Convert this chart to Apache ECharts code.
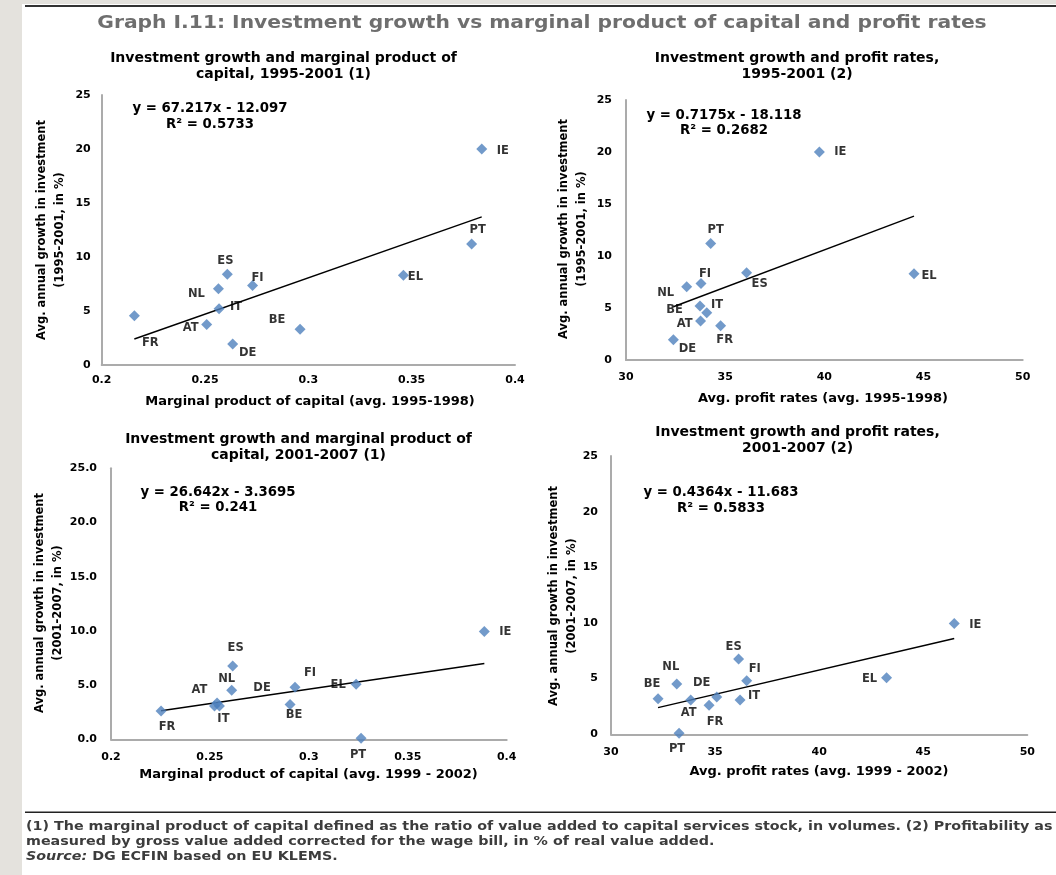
<!DOCTYPE html>
<html>
<head>
<meta charset="utf-8">
<script src="https://cdn.jsdelivr.net/npm/echarts@6/dist/echarts.min.js"></script>
<style>
html,body{margin:0;padding:0;background:#fff;}
#chart{width:1056px;height:875px;}
</style>
</head>
<body>
<div id="chart"></div>
<script>
// ---------------- DATA ----------------
const countries = ['IE','PT','EL','ES','FI','NL','IT','FR','AT','BE','DE'];

// Panel 1: 1995-2001 investment growth vs marginal product of capital (avg. 1995-1998)
const mpk9598    = [0.3839, 0.379, 0.346, 0.2608, 0.273, 0.2565, 0.2568, 0.2158, 0.2508, 0.296, 0.2634];
const growth9501 = [20.0, 11.2, 8.3, 8.4, 7.35, 7.05, 5.2, 4.55, 3.75, 3.3, 1.95];
// Panel 2: profit rates (avg. 1995-1998)
const profit9598 = [39.75, 34.27, 44.52, 36.08, 33.78, 33.06, 33.73, 34.07, 33.76, 34.77, 32.39];

// Panel 3: 2001-2007 investment growth vs marginal product of capital (avg. 1999-2002)
const mpk9902    = [0.3887, 0.3264, 0.3239, 0.2615, 0.293, 0.2610, 0.2548, 0.2253, 0.2523, 0.2905, 0.2536];
const growth0107 = [9.95, 0.1, 5.08, 6.77, 4.8, 4.52, 3.08, 2.62, 3.08, 3.2, 3.35];
// Panel 4: profit rates (avg. 1999-2002)
const profit9902 = [46.49, 33.27, 43.24, 36.13, 36.52, 33.16, 36.2, 34.71, 33.83, 32.26, 35.08];

// Linear trend lines (end points, as drawn)
const trend1 = [[0.2158, 2.41], [0.3839, 13.71]];
const trend2 = [[32.39, 5.12], [44.52, 13.83]];
const trend3 = [[0.2253, 2.63], [0.3887, 6.99]];
const trend4 = [[32.26, 2.40], [46.49, 8.61]];

const eq1 = ['y = 67.217x - 12.097', 'R² = 0.5733'];
const eq2 = ['y = 0.7175x - 18.118', 'R² = 0.2682'];
const eq3 = ['y = 26.642x - 3.3695', 'R² = 0.241'];
const eq4 = ['y = 0.4364x - 11.683', 'R² = 0.5833'];

const mpkTicks = [0.2, 0.25, 0.3, 0.35, 0.4];
const profitTicks = [30, 35, 40, 45, 50];
const growthTicks = [0, 5, 10, 15, 20, 25];

// ---------------- LABEL PLACEMENT (style) ----------------
const labelOffsets = [
  {IE:[21,2],PT:[6,-14],EL:[12,2],ES:[-2,-13],FI:[5,-8],NL:[-22,5],IT:[17,-2],FR:[16,27],AT:[-16,4],BE:[-23,-9],DE:[15,9]},
  {IE:[21,0],PT:[5,-14],EL:[15,2],ES:[13,11],FI:[4,-10],NL:[-21,6],IT:[17,-1],FR:[18,27],AT:[-16,3],BE:[-46,-16],DE:[14,9]},
  {IE:[21,1],PT:[-3,17],EL:[-18,1],ES:[3,-18],FI:[15,-14],NL:[-5,-11],IT:[4,13],FR:[6,16],AT:[-15,-16],BE:[4,10],DE:[45,-15]},
  {IE:[21,1],PT:[-2,16],EL:[-17,1],ES:[-5,-12],FI:[8,-12],NL:[-6,-17],IT:[14,-4],FR:[6,17],AT:[-2,13],BE:[-6,-15],DE:[-15,-14]}
];

const FONT = 'DejaVu Sans';
const BLUE = '#4f81bd';

function points(xs, ys, pi) {
  return countries.map((c, i) => ({
    name: c,
    value: [xs[i], ys[i]],
    label: { offset: labelOffsets[pi][c] }
  }));
}

const grids = [
  {left: 101.7, top: 95,    width: 413.3, height: 270},
  {left: 626,   top: 100,   width: 396.7, height: 260},
  {left: 111,   top: 468.3, width: 395.7, height: 271},
  {left: 611,   top: 456,   width: 416.3, height: 278.3}
];

const axisLineStyle = {show: true, lineStyle: {color: '#ababab', width: 2}};
const tickLabel = {color: '#000', fontFamily: FONT, fontWeight: 'bold', fontSize: 11};

function xAxisMpk(gi, margin) {
  return {type: 'value', gridIndex: gi, min: mpkTicks[0], max: mpkTicks[mpkTicks.length-1], interval: 0.05,
    axisLine: axisLineStyle, axisTick: {show: false}, splitLine: {show: false},
    axisLabel: Object.assign({}, tickLabel, {margin: margin, formatter: v => String(+v.toFixed(2))})};
}
function xAxisProfit(gi, margin) {
  return {type: 'value', gridIndex: gi, min: profitTicks[0], max: profitTicks[profitTicks.length-1], interval: 5,
    axisLine: axisLineStyle, axisTick: {show: false}, splitLine: {show: false},
    axisLabel: Object.assign({}, tickLabel, {margin: margin})};
}
function yAxisGrowth(gi, margin, decimals) {
  return {type: 'value', gridIndex: gi, min: growthTicks[0], max: growthTicks[growthTicks.length-1], interval: 5,
    axisLine: axisLineStyle, axisTick: {show: false}, splitLine: {show: false},
    axisLabel: Object.assign({}, tickLabel, {margin: margin, formatter: v => decimals ? v.toFixed(decimals) : String(v)})};
}

function scatter(gi, data) {
  return {type: 'scatter', xAxisIndex: gi, yAxisIndex: gi, data: data, symbol: 'diamond', symbolSize: [11, 11],
    itemStyle: {color: BLUE}, z: 3,
    label: {show: true, position: 'inside', formatter: '{b}', color: '#000', fontFamily: FONT, fontWeight: 'bold', fontSize: 11.5}};
}
function trend(gi, pts) {
  return {type: 'line', xAxisIndex: gi, yAxisIndex: gi, data: pts, symbol: 'none', silent: true,
    lineStyle: {color: '#000', width: 1.4}, z: 2};
}

function txt(x, y, text, style, extra) {
  return Object.assign({type: 'text', x: x, y: y, silent: true,
    style: Object.assign({text: text, fill: '#000', font: 'bold 13px "' + FONT + '"', align: 'center', verticalAlign: 'middle'}, style || {})},
    extra || {});
}
function ytitle(x, y, text) {
  return {type: 'text', x: x, y: y, rotation: Math.PI / 2, silent: true,
    style: {text: text, fill: '#000', font: 'bold 11.5px "' + FONT + '"', align: 'center', verticalAlign: 'middle', lineHeight: 18}};
}
const subStyle = {font: 'bold 14px "' + FONT + '"', lineHeight: 15.5};
const eqStyle = {font: 'bold 13.3px "' + FONT + '"', lineHeight: 15.5};
const footStyle = {fill: '#3c3c3c', font: 'bold 13px "' + FONT + '"', align: 'left', verticalAlign: 'middle'};

const graphic = [
  {type: 'rect', shape: {x: 0, y: 0, width: 22, height: 875}, style: {fill: '#e4e2dd'}, silent: true},
  {type: 'rect', shape: {x: 0, y: 0, width: 1056, height: 4}, style: {fill: '#e4e2dd'}, silent: true},
  {type: 'rect', shape: {x: 25, y: 5, width: 1031, height: 2}, style: {fill: '#333'}, silent: true},
  {type: 'rect', shape: {x: 25, y: 811.5, width: 1031, height: 1.5}, style: {fill: '#222'}, silent: true},
  txt(542, 23, 'Graph I.11: Investment growth vs marginal product of capital and profit rates', {font: 'bold 18px "' + FONT + '"', fill: '#6e6e6e'}, {scaleX: 1.125}),
  txt(283.5, 66.5, 'Investment growth and marginal product of\ncapital, 1995-2001 (1)', subStyle),
  txt(797, 66.5, 'Investment growth and profit rates,\n1995-2001 (2)', subStyle),
  txt(298.5, 447.5, 'Investment growth and marginal product of\ncapital, 2001-2007 (1)', subStyle),
  txt(797.5, 440.5, 'Investment growth and profit rates,\n2001-2007 (2)', subStyle),
  txt(210, 116.5, eq1.join('\n'), eqStyle),
  txt(724, 123, eq2.join('\n'), eqStyle),
  txt(218, 500, eq3.join('\n'), eqStyle),
  txt(721, 500.5, eq4.join('\n'), eqStyle),
  txt(310, 401.7, 'Marginal product of capital (avg. 1995-1998)'),
  txt(823, 398.3, 'Avg. profit rates (avg. 1995-1998)'),
  txt(308.5, 775, 'Marginal product of capital (avg. 1999 - 2002)'),
  txt(819, 771.7, 'Avg. profit rates (avg. 1999 - 2002)'),
  ytitle(51, 230, 'Avg. annual growth in investment\n(1995-2001, in %)'),
  ytitle(573.3, 229, 'Avg. annual growth in investment\n(1995-2001, in %)'),
  ytitle(49.3, 603, 'Avg. annual growth in investment\n(2001-2007, in %)'),
  ytitle(563.3, 596, 'Avg. annual growth in investment\n(2001-2007, in %)'),
  txt(26, 826.7, '(1) The marginal product of capital defined as the ratio of value added to capital services stock, in volumes. (2) Profitability as', footStyle, {scaleX: 1.1}),
  txt(26, 841.5, 'measured by gross value added corrected for the wage bill, in % of real value added.', footStyle, {scaleX: 1.1}),
  txt(26, 856.7, '{i|Source:} DG ECFIN based on EU KLEMS.', Object.assign({}, footStyle, {
    rich: {i: {fontStyle: 'italic', fontWeight: 'bold', fontSize: 13, fontFamily: FONT, fill: '#3c3c3c'}}}), {scaleX: 1.1})
];

const chart = echarts.init(document.getElementById('chart'), null, {renderer: 'canvas'});
chart.setOption({
  animation: false,
  backgroundColor: '#fff',
  grid: grids,
  xAxis: [xAxisMpk(0, 10), xAxisProfit(1, 12), xAxisMpk(2, 12), xAxisProfit(3, 12)],
  yAxis: [yAxisGrowth(0, 11, 0), yAxisGrowth(1, 14, 0), yAxisGrowth(2, 14, 1), yAxisGrowth(3, 13, 0)],
  series: [
    trend(0, trend1), scatter(0, points(mpk9598, growth9501, 0)),
    trend(1, trend2), scatter(1, points(profit9598, growth9501, 1)),
    trend(2, trend3), scatter(2, points(mpk9902, growth0107, 2)),
    trend(3, trend4), scatter(3, points(profit9902, growth0107, 3))
  ],
  graphic: graphic
});
</script>
</body>
</html>
